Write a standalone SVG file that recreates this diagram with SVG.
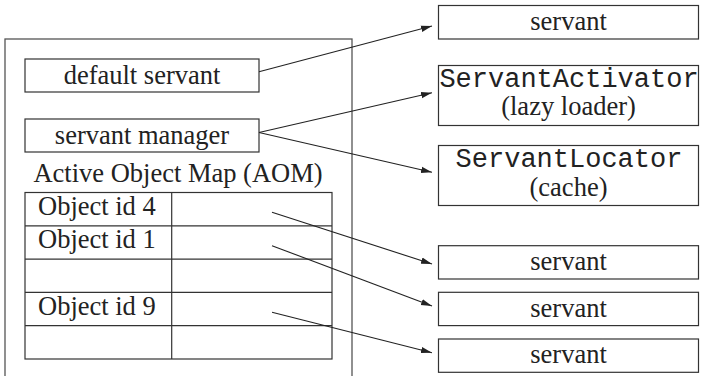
<svg xmlns="http://www.w3.org/2000/svg" width="702" height="376" viewBox="0 0 702 376">
  <style>
    .box { fill: none; stroke: #333; stroke-width: 1.2; }
    .frame { fill: none; stroke: #555; stroke-width: 1.3; }
    .t { font-family: "Liberation Serif", "Times New Roman", serif; font-size: 26.5px; fill: #222; }
    .m { font-family: "Liberation Mono", "Courier New", monospace; font-size: 27px; fill: #222; }
    .c { text-anchor: middle; }
    .link { stroke: #222; stroke-width: 1.1; fill: none; marker-end: url(#arrow); }
  </style>
  <defs>
    <marker id="arrow" markerWidth="12" markerHeight="8" refX="11" refY="4" orient="auto" markerUnits="userSpaceOnUse">
      <path d="M0,0.8 L11,4 L0,7.2 Z" fill="#222"/>
    </marker>
  </defs>

  <rect width="702" height="376" fill="#fff"/>

  <!-- POA container, open past the bottom edge -->
  <g id="poa">
    <rect class="frame" x="5" y="39" width="347" height="345"/>
  </g>

  <g id="default-servant">
    <rect class="box" x="25" y="59" width="234" height="33"/>
    <text class="t c" x="142" y="84">default servant</text>
  </g>

  <g id="servant-manager">
    <rect class="box" x="25" y="119" width="234" height="33"/>
    <text class="t c" x="142" y="144">servant manager</text>
  </g>

  <g id="aom">
    <text class="t c" x="178" y="182">Active Object Map (AOM)</text>
    <rect class="box" x="25" y="192.5" width="307" height="166.5"/>
    <line class="box" x1="25" y1="225.8" x2="332" y2="225.8"/>
    <line class="box" x1="25" y1="259.1" x2="332" y2="259.1"/>
    <line class="box" x1="25" y1="292.4" x2="332" y2="292.4"/>
    <line class="box" x1="25" y1="325.7" x2="332" y2="325.7"/>
    <line class="box" x1="171.7" y1="192.5" x2="171.7" y2="359"/>
    <text class="t" x="38" y="215">Object id 4</text>
    <text class="t" x="38" y="248">Object id 1</text>
    <text class="t" x="38" y="315">Object id 9</text>
  </g>

  <g id="servant-top">
    <rect class="box" x="438.5" y="5.5" width="260" height="33.5"/>
    <text class="t c" x="568.5" y="30">servant</text>
  </g>

  <g id="servant-activator">
    <rect class="box" x="438.5" y="65.5" width="260" height="60"/>
    <text class="m c" x="569" y="86.5">ServantActivator</text>
    <text class="t c" x="568.5" y="115">(lazy loader)</text>
  </g>

  <g id="servant-locator">
    <rect class="box" x="438.5" y="145.5" width="260" height="60"/>
    <text class="m c" x="569" y="166.5">ServantLocator</text>
    <text class="t c" x="568.5" y="195.5">(cache)</text>
  </g>

  <g id="servant-4">
    <rect class="box" x="438.5" y="245.7" width="260" height="33.3"/>
    <text class="t c" x="568.5" y="270">servant</text>
  </g>

  <g id="servant-1">
    <rect class="box" x="438.5" y="292.3" width="260" height="33.3"/>
    <text class="t c" x="568.5" y="317">servant</text>
  </g>

  <g id="servant-9">
    <rect class="box" x="438.5" y="339" width="260" height="33.3"/>
    <text class="t c" x="568.5" y="363">servant</text>
  </g>

  <g id="connectors">
    <line class="link" x1="259" y1="71.7" x2="432" y2="26"/>
    <line class="link" x1="259" y1="132.5" x2="432" y2="92.7"/>
    <line class="link" x1="259" y1="132.5" x2="432" y2="172.3"/>
    <line class="link" x1="272" y1="212.3" x2="432" y2="264"/>
    <line class="link" x1="272" y1="245.7" x2="432" y2="306"/>
    <line class="link" x1="272" y1="312.3" x2="432" y2="352.7"/>
  </g>
</svg>
